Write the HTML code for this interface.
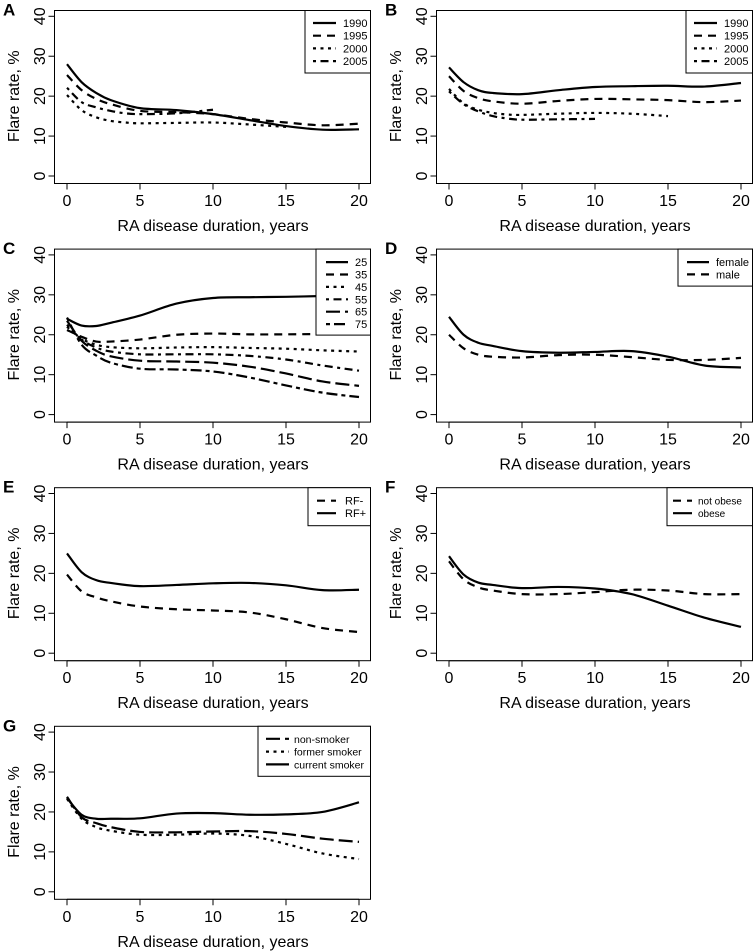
<!DOCTYPE html>
<html><head><meta charset="utf-8"><style>
html,body{margin:0;padding:0;background:#fff;}
svg{display:block;font-family:"Liberation Sans",Arial,sans-serif;}
</style></head><body>
<svg id="fig" width="755" height="952" viewBox="0 0 755 952" xmlns="http://www.w3.org/2000/svg"></svg>
<script>
const xs = [0,1,2,3,5,7.5,10,12.5,15,17.5,20];
const xs15 = [0,1,2,3,4,5,7.5,10,12.5,15];
const xs10 = [0,1,2,3,4,5,7.5,10];
const xTicks = [0,5,10,15,20];
const yTicks = [0,10,20,30,40];

const a1990 = [28,23.5,20.8,19,17,16.5,15.5,14,12.5,11.6,11.7];
const a1995 = [25.3,21.5,19.3,18,16.3,16,15.5,14.3,13.4,12.7,13.1];
const a2000 = [20.3,16.5,14.7,13.8,13.4,13.2,13.3,13.4,12.9,12.3];
const a2005 = [22.1,18.5,17.2,16.3,15.7,15.5,15.7,16.6];

const b1990 = [27.2,23.5,21.5,20.8,20.5,21.5,22.3,22.5,22.6,22.4,23.3];
const b1995 = [25,21.3,19.5,18.7,18.1,18.8,19.3,19.2,19,18.5,18.9];
const b2000 = [21.8,18.2,16.6,15.8,15.4,15.3,15.6,15.8,15.6,15];
const b2005 = [21.2,18,16.2,15,14.4,14.1,14.2,14.3];

const c25 = [24,22.3,22.2,23,24.8,27.8,29.2,29.4,29.5,29.7,29.8];
const c35 = [21.2,19.5,18.3,18.3,18.8,20,20.3,20.1,20.1,20.2,20.3];
const c45 = [22,19,17.5,16.9,16.6,16.8,16.9,16.7,16.5,16.1,15.8];
const c55 = [22.5,18.8,16.8,15.8,15.1,15.1,15.1,14.7,13.8,12.3,11];
const c65 = [23.5,18.5,16,14.6,13.5,13.3,13,12,10.3,8.3,7.2];
const c75 = [24.3,17.5,14.8,13,11.5,11.3,10.8,9.3,7.3,5.5,4.4];

const dFemale = [24.5,20,18,17.2,15.9,15.5,15.7,15.9,14.5,12.3,11.8];
const dMale = [20,16.6,15,14.5,14.3,14.9,15,14.4,13.7,13.7,14.2];

const eRFneg = [19.7,15.5,14,13,11.7,11,10.7,10.2,8.5,6.3,5.3];
const eRFpos = [25,20.3,18.3,17.6,16.8,17.1,17.5,17.6,17,15.8,15.9];

const fNotObese = [23,18.5,16.5,15.7,14.8,14.8,15.3,15.9,15.7,14.8,14.8];
const fObese = [24.3,19.7,17.7,17.1,16.3,16.6,16.2,14.8,11.9,8.9,6.6];

const gNon = [23.8,18.7,17.2,16.2,15,14.9,15.1,15.2,14.5,13.3,12.5];
const gFormer = [23.3,18.3,16.2,15.3,14.3,14.3,14.6,14,12,9.6,8.2];
const gCurrent = [23.5,19.3,18.3,18.3,18.4,19.6,19.7,19.3,19.4,20,22.4];

const DASH = {solid:"", dashed:"8 6", dotted:"3 4.5", dotdash:"3 4.5 8 4.5", longdash:"14 5", twodash:"4 4 11 4"};
const NS = "http://www.w3.org/2000/svg";
const svg = document.getElementById('fig');
function mk(tag, attrs, parent){ const e=document.createElementNS(NS,tag); for(const k in attrs) e.setAttribute(k,attrs[k]); (parent||svg).appendChild(e); return e; }

function path(px,py){
  let d="M"+px[0].toFixed(2)+","+py[0].toFixed(2);
  for(let i=0;i<px.length-1;i++){
    const p0x=px[Math.max(i-1,0)],p0y=py[Math.max(i-1,0)];
    const p3x=px[Math.min(i+2,px.length-1)],p3y=py[Math.min(i+2,px.length-1)];
    const c1x=px[i]+(px[i+1]-p0x)/6,c1y=py[i]+(py[i+1]-p0y)/6;
    const c2x=px[i+1]-(p3x-px[i])/6,c2y=py[i+1]-(p3y-py[i])/6;
    d+=" C"+c1x.toFixed(2)+","+c1y.toFixed(2)+" "+c2x.toFixed(2)+","+c2y.toFixed(2)+" "+px[i+1].toFixed(2)+","+py[i+1].toFixed(2);
  }
  return d;
}

function panel(letter, ox, oy, series, legend){
  const g = mk('g',{});
  
  
  const x0=67+ox, x1=359+ox, y40=16.3+oy, y0=176+oy;
  const sx=v=>x0+(x1-x0)*v/20, sy=v=>y0-(y0-y40)*v/40;
  const lt = mk('text',{x:3+ox,y:15.5+oy,'font-size':17,'font-weight':'bold'},g); lt.textContent=letter;
   
  const box = mk('rect',{x:54.5+ox,y:10.5+oy,width:316,height:173,fill:'none',stroke:'#000','stroke-width':1},g);
   
  mk('line',{x1:54.5+ox,y1:sy(0),x2:54.5+ox,y2:sy(40),stroke:'#000'},g);
  yTicks.forEach(t=>{
    mk('line',{x1:48.5+ox,y1:sy(t),x2:54.5+ox,y2:sy(t),stroke:'#000'},g);
    const tx=mk('text',{x:0,y:0,'font-size':16,'text-anchor':'middle',transform:`translate(${45+ox},${sy(t)}) rotate(-90)`},g);
    tx.textContent=t;
     
  });
  const yt=mk('text',{x:0,y:0,'font-size':16,'text-anchor':'middle',transform:`translate(${19+ox},${sy(20)}) rotate(-90)`},g);
  yt.textContent='Flare rate, %';
   
  mk('line',{x1:sx(0),y1:183.5+oy,x2:sx(20),y2:183.5+oy,stroke:'#000'},g);
  xTicks.forEach(t=>{
    mk('line',{x1:sx(t),y1:183.5+oy,x2:sx(t),y2:189.5+oy,stroke:'#000'},g);
    const tx=mk('text',{x:sx(t),y:206+oy,'font-size':16,'text-anchor':'middle'},g);
    tx.textContent=t;
     
  });
  const xt=mk('text',{x:(x0+x1)/2,y:231+oy,'font-size':16,'text-anchor':'middle'},g);
  xt.textContent='RA disease duration, years';
   
  series.forEach(s=>{
    const p=mk('path',{d:path(s.x.map(sx),s.y.map(sy)),fill:'none',stroke:'#000','stroke-width':2.2,'stroke-dasharray':DASH[s.lty]},g);
    
    
  });
  const L=legend;
  const lg=mk('g',{},g);
   
  mk('rect',{x:L.x+ox,y:10.5+oy,width:370.5-L.x,height:L.h,fill:'#fff',stroke:'#000'},lg);
  series.slice().sort((a,b)=>a.li-b.li).forEach((s,i)=>{
    const yy=oy+L.y0+i*L.dy;
    mk('line',{x1:L.x+ox+L.l0,y1:yy,x2:L.x+ox+L.l0+L.lw,y2:yy,stroke:'#000','stroke-width':2.2,'stroke-dasharray':DASH[s.lty]},lg);
    const tx=mk('text',{x:L.x+ox+L.l0+L.lw+L.gap,y:yy+4,'font-size':L.fs||11},lg);
    tx.textContent=s.name;
     
  });
}

const R=382, D=238.6;
panel('A',0,0,[
  {name:'1990',x:xs,y:a1990,lty:'solid',li:0},
  {name:'1995',x:xs,y:a1995,lty:'dashed',li:1},
  {name:'2000',x:xs15,y:a2000,lty:'dotted',li:2},
  {name:'2005',x:xs10,y:a2005,lty:'dotdash',li:3}],
  {x:305,h:62.5,y0:23,dy:12.7,l0:8,lw:23,gap:7});
panel('B',R,0,[
  {name:'1990',x:xs,y:b1990,lty:'solid',li:0},
  {name:'1995',x:xs,y:b1995,lty:'dashed',li:1},
  {name:'2000',x:xs15,y:b2000,lty:'dotted',li:2},
  {name:'2005',x:xs10,y:b2005,lty:'dotdash',li:3}],
  {x:304,h:62.5,y0:23,dy:12.7,l0:8,lw:23,gap:7});
panel('C',0,D,[
  {name:'25',x:xs,y:c25,lty:'solid',li:0},
  {name:'35',x:xs,y:c35,lty:'dashed',li:1},
  {name:'45',x:xs,y:c45,lty:'dotted',li:2},
  {name:'55',x:xs,y:c55,lty:'dotdash',li:3},
  {name:'65',x:xs,y:c65,lty:'longdash',li:4},
  {name:'75',x:xs,y:c75,lty:'twodash',li:5}],
  {x:316,h:86,y0:23.5,dy:12.4,l0:10,lw:22,gap:7});
panel('D',R,D,[
  {name:'female',x:xs,y:dFemale,lty:'solid',li:0},
  {name:'male',x:xs,y:dMale,lty:'dashed',li:1}],
  {x:296,h:37,y0:23.5,dy:12.3,l0:9,lw:22,gap:7});
panel('E',0,2*D,[
  {name:'RF-',x:xs,y:eRFneg,lty:'dashed',li:0},
  {name:'RF+',x:xs,y:eRFpos,lty:'solid',li:1}],
  {x:308,h:38,y0:23.5,dy:12.5,l0:9,lw:19,gap:9});
panel('F',R,2*D,[
  {name:'not obese',x:xs,y:fNotObese,lty:'dashed',li:0},
  {name:'obese',x:xs,y:fObese,lty:'solid',li:1}],
  {x:285,h:38,y0:23.5,dy:12.5,l0:6,lw:19,gap:6,fs:10});
panel('G',0,3*D,[
  {name:'non-smoker',x:xs,y:gNon,lty:'longdash',li:0},
  {name:'former smoker',x:xs,y:gFormer,lty:'dotted',li:1},
  {name:'current smoker',x:xs,y:gCurrent,lty:'solid',li:2}],
  {x:258,h:50,y0:23,dy:12.8,l0:8,lw:23,gap:5,fs:10.5});
</script>
</body></html>
